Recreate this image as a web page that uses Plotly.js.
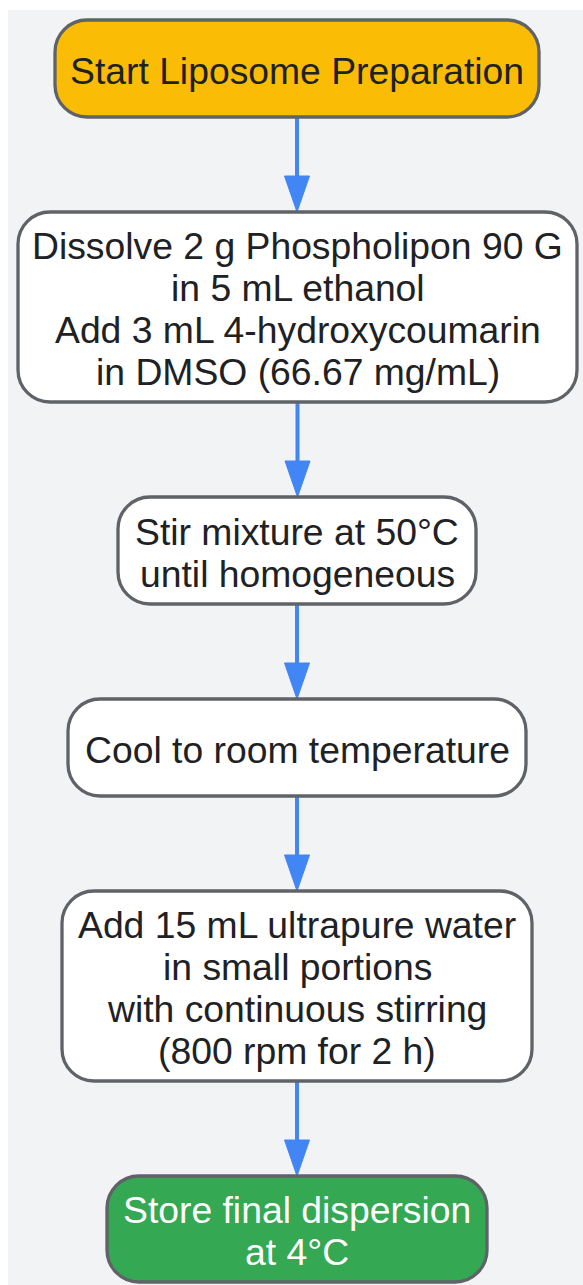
<!DOCTYPE html>
<html>
<head>
<meta charset="utf-8">
<script src="https://cdn.plot.ly/plotly-3.0.1.min.js"></script>
<style>html,body{margin:0;padding:0;background:#fff;}#chart{width:583px;height:1285px;}</style>
</head>
<body>
<div id="chart"></div>
<script>
// ---- data ----
const stepLabels = [
  ["Start Liposome Preparation"],
  ["Dissolve 2 g Phospholipon 90 G", "in 5 mL ethanol", "Add 3 mL 4-hydroxycoumarin", "in DMSO (66.67 mg/mL)"],
  ["Stir mixture at 50°C", "until homogeneous"],
  ["Cool to room temperature"],
  ["Add 15 mL ultrapure water", "in small portions", "with continuous stirring", "(800 rpm for 2 h)"],
  ["Store final dispersion", "at 4°C"]
];
const stepKinds = ["start", "process", "process", "process", "process", "end"];
const edgesFrom = [0, 1, 2, 3, 4];
const edgesTo   = [1, 2, 3, 4, 5];

// ---- layout geometry (pixel space; axes map 1:1 to pixels) ----
const W = 583, H = 1285;
const boxGeom = [
  {x0: 55,  x1: 539, y0: 20,  y1: 117},
  {x0: 18,  x1: 577, y0: 212, y1: 402},
  {x0: 118, x1: 476, y0: 497, y1: 604},
  {x0: 68,  x1: 526, y0: 699, y1: 796},
  {x0: 62,  x1: 532, y0: 891, y1: 1081},
  {x0: 107, x1: 487, y0: 1176, y1: 1282}
];
const styleByKind = {
  start:   {fill: "#fbbc05", text: "#202124"},
  process: {fill: "#ffffff", text: "#202124"},
  end:     {fill: "#34a853", text: "#ffffff"}
};
const R = 32, K = 0.5523;
const FONT = 37.3, LINE = 42;

function roundRect(b) {
  const r = R, k = r * (1 - K);
  return `M ${b.x0 + r} ${b.y0} L ${b.x1 - r} ${b.y0} ` +
    `C ${b.x1 - k} ${b.y0} ${b.x1} ${b.y0 + k} ${b.x1} ${b.y0 + r} ` +
    `L ${b.x1} ${b.y1 - r} ` +
    `C ${b.x1} ${b.y1 - k} ${b.x1 - k} ${b.y1} ${b.x1 - r} ${b.y1} ` +
    `L ${b.x0 + r} ${b.y1} ` +
    `C ${b.x0 + k} ${b.y1} ${b.x0} ${b.y1 - k} ${b.x0} ${b.y1 - r} ` +
    `L ${b.x0} ${b.y0 + r} ` +
    `C ${b.x0} ${b.y0 + k} ${b.x0 + k} ${b.y0} ${b.x0 + r} ${b.y0} Z`;
}

const shapes = [];
const annotations = [];

// background panel
shapes.push({type: "rect", xref: "x", yref: "y", x0: 8, x1: W + 5, y0: 10, y1: H + 5,
  fillcolor: "#f1f3f4", line: {width: 0}, layer: "below"});

// arrows
const HEAD_L = 36, HEAD_W = 25;
edgesFrom.forEach((f, i) => {
  const a = boxGeom[f], b = boxGeom[edgesTo[i]];
  const cx = (a.x0 + a.x1) / 2;
  const yStart = a.y1, yTip = b.y0;
  shapes.push({type: "line", xref: "x", yref: "y", x0: cx, x1: cx, y0: yStart, y1: yTip - HEAD_L + 2,
    line: {color: "#4285f4", width: 4}});
  shapes.push({type: "path", xref: "x", yref: "y",
    path: `M ${cx - HEAD_W / 2} ${yTip - HEAD_L} L ${cx + HEAD_W / 2} ${yTip - HEAD_L} L ${cx} ${yTip} Z`,
    fillcolor: "#4285f4", line: {color: "#4285f4", width: 1}});
});

// boxes + text
stepLabels.forEach((lines, i) => {
  const b = boxGeom[i];
  const st = styleByKind[stepKinds[i]];
  shapes.push({type: "path", xref: "x", yref: "y", path: roundRect(b),
    fillcolor: st.fill, line: {color: "#5f6368", width: 3.3}});
  const cx = (b.x0 + b.x1) / 2, cy = (b.y0 + b.y1) / 2 + 2;
  lines.forEach((t, j) => {
    annotations.push({xref: "x", yref: "y", x: cx, y: cy + (j - (lines.length - 1) / 2) * LINE,
      text: t, showarrow: false, xanchor: "center", yanchor: "middle",
      font: {family: "Liberation Sans, Arial, sans-serif", size: FONT, color: st.text}});
  });
});

const layout = {
  width: W, height: H,
  margin: {l: 0, r: 0, t: 0, b: 0, pad: 0},
  paper_bgcolor: "#ffffff", plot_bgcolor: "rgba(0,0,0,0)",
  xaxis: {range: [0, W], visible: false, fixedrange: true},
  yaxis: {range: [H, 0], visible: false, fixedrange: true},
  shapes: shapes, annotations: annotations, showlegend: false
};
Plotly.newPlot("chart", [], layout, {displayModeBar: false, staticPlot: true});
</script>
</body>
</html>
